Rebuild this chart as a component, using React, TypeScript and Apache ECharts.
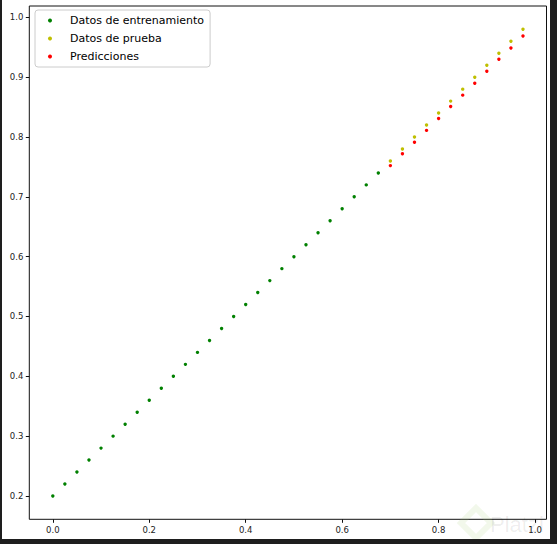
import React, { useEffect, useRef } from "react";
import * as echarts from "echarts";

const trainX = [0, 0.025, 0.05, 0.075, 0.1, 0.125, 0.15, 0.175, 0.2, 0.225, 0.25, 0.275, 0.3, 0.325, 0.35, 0.375, 0.4, 0.425, 0.45, 0.475, 0.5, 0.525, 0.55, 0.575, 0.6, 0.625, 0.65, 0.675];
const trainY = [0.2, 0.22, 0.24, 0.26, 0.28, 0.3, 0.32, 0.34, 0.36, 0.38, 0.4, 0.42, 0.44, 0.46, 0.48, 0.5, 0.52, 0.54, 0.56, 0.58, 0.6, 0.62, 0.64, 0.66, 0.68, 0.7, 0.72, 0.74];
const testX = [0.7, 0.725, 0.75, 0.775, 0.8, 0.825, 0.85, 0.875, 0.9, 0.925, 0.95, 0.975];
const testY = [0.76, 0.78, 0.8, 0.82, 0.84, 0.86, 0.88, 0.9, 0.92, 0.94, 0.96, 0.98];
const predY = [0.7522, 0.7721, 0.7912, 0.8111, 0.8311, 0.8511, 0.8700, 0.8900, 0.9100, 0.9300, 0.9489, 0.9689];

const xTicks = [0, 0.2, 0.4, 0.6, 0.8, 1.0];
const yTicks = [0.2, 0.3, 0.4, 0.5, 0.6, 0.7, 0.8, 0.9, 1.0];

const seriesNames = ["Datos de entrenamiento", "Datos de prueba", "Predicciones"];
const seriesColors = ["#008000", "#bfbf00", "#ff0000"];

const FONT = "DejaVu Sans";

export default function App() {
  const ref = useRef<HTMLDivElement>(null);
  useEffect(() => {
    if (!ref.current) return;
    const chart = echarts.init(ref.current, undefined, { renderer: "svg" });
    const pairs = (xs: number[], ys: number[]) => xs.map((x, i) => [x, ys[i]]);
    const dataSets = [pairs(trainX, trainY), pairs(testX, testY), pairs(testX, predY)];
    chart.setOption({
      animation: false,
      backgroundColor: "#ffffff",
      grid: {
        left: 29.3,
        top: 6,
        right: 10.5,
        bottom: 24.7,
        show: true,
        borderColor: "#111",
        borderWidth: 1,
        backgroundColor: "transparent",
      },
      legend: {
        left: 35,
        top: 10,
        orient: "vertical",
        padding: [5, 6, 5, 13],
        itemWidth: 4,
        itemHeight: 4,
        itemGap: 7,
        icon: "circle",
        borderColor: "#cccccc",
        borderWidth: 1,
        borderRadius: 3,
        backgroundColor: "rgba(255,255,255,0.8)",
        textStyle: {
          fontFamily: FONT,
          fontSize: 11,
          color: "#000",
          lineHeight: 11,
          padding: [0, 0, 0, 13],
        },
        data: seriesNames,
      },
      xAxis: {
        type: "value",
        min: -0.04875,
        max: 1.02375,
        splitLine: { show: false },
        axisLine: { show: false, onZero: false },
        axisTick: {
          show: true,
          length: 3.5,
          inside: false,
          lineStyle: { color: "#111" },
          customValues: xTicks,
        },
        axisLabel: {
          customValues: xTicks,
          formatter: (v: number) => v.toFixed(1),
          fontFamily: FONT,
          fontSize: 8.5,
          color: "#222",
          margin: 6,
        },
      },
      yAxis: {
        type: "value",
        min: 0.161,
        max: 1.019,
        splitLine: { show: false },
        axisLine: { show: false, onZero: false },
        axisTick: {
          show: true,
          length: 3.5,
          inside: false,
          lineStyle: { color: "#111" },
          customValues: yTicks,
        },
        axisLabel: {
          customValues: yTicks,
          formatter: (v: number) => v.toFixed(1),
          fontFamily: FONT,
          fontSize: 8.5,
          color: "#222",
          margin: 6,
        },
      },
      series: seriesNames.map((name, i) => ({
        name,
        type: "scatter",
        data: dataSets[i],
        symbol: "circle",
        symbolSize: 3.4,
        itemStyle: { color: seriesColors[i], opacity: 1 },
        emphasis: { disabled: true },
      })),
      graphic: [
        {
          type: "polygon",
          z: 50,
          shape: { points: [[476, 508], [491, 523], [476, 538], [461, 523]] },
          style: { fill: "none", stroke: "rgba(170,210,120,0.15)", lineWidth: 6 },
        },
        {
          type: "text",
          z: 50,
          left: 490,
          top: 513,
          style: {
            text: "Platzi",
            font: "22px Liberation Sans",
            fill: "rgba(0,0,0,0.08)",
          },
        },
        { type: "rect", z: 100, shape: { x: 0, y: 0, width: 2, height: 544 }, style: { fill: "#1e1e1e" } },
        { type: "rect", z: 100, shape: { x: 550, y: 0, width: 7, height: 544 }, style: { fill: "#1e1e1e" } },
        { type: "rect", z: 100, shape: { x: 0, y: 539, width: 557, height: 5 }, style: { fill: "#1e1e1e" } },
      ],
    });
    return () => chart.dispose();
  }, []);
  return (
    <div
      ref={ref}
      style={{ position: "fixed", left: 0, top: 0, width: 557, height: 544 }}
    />
  );
}
